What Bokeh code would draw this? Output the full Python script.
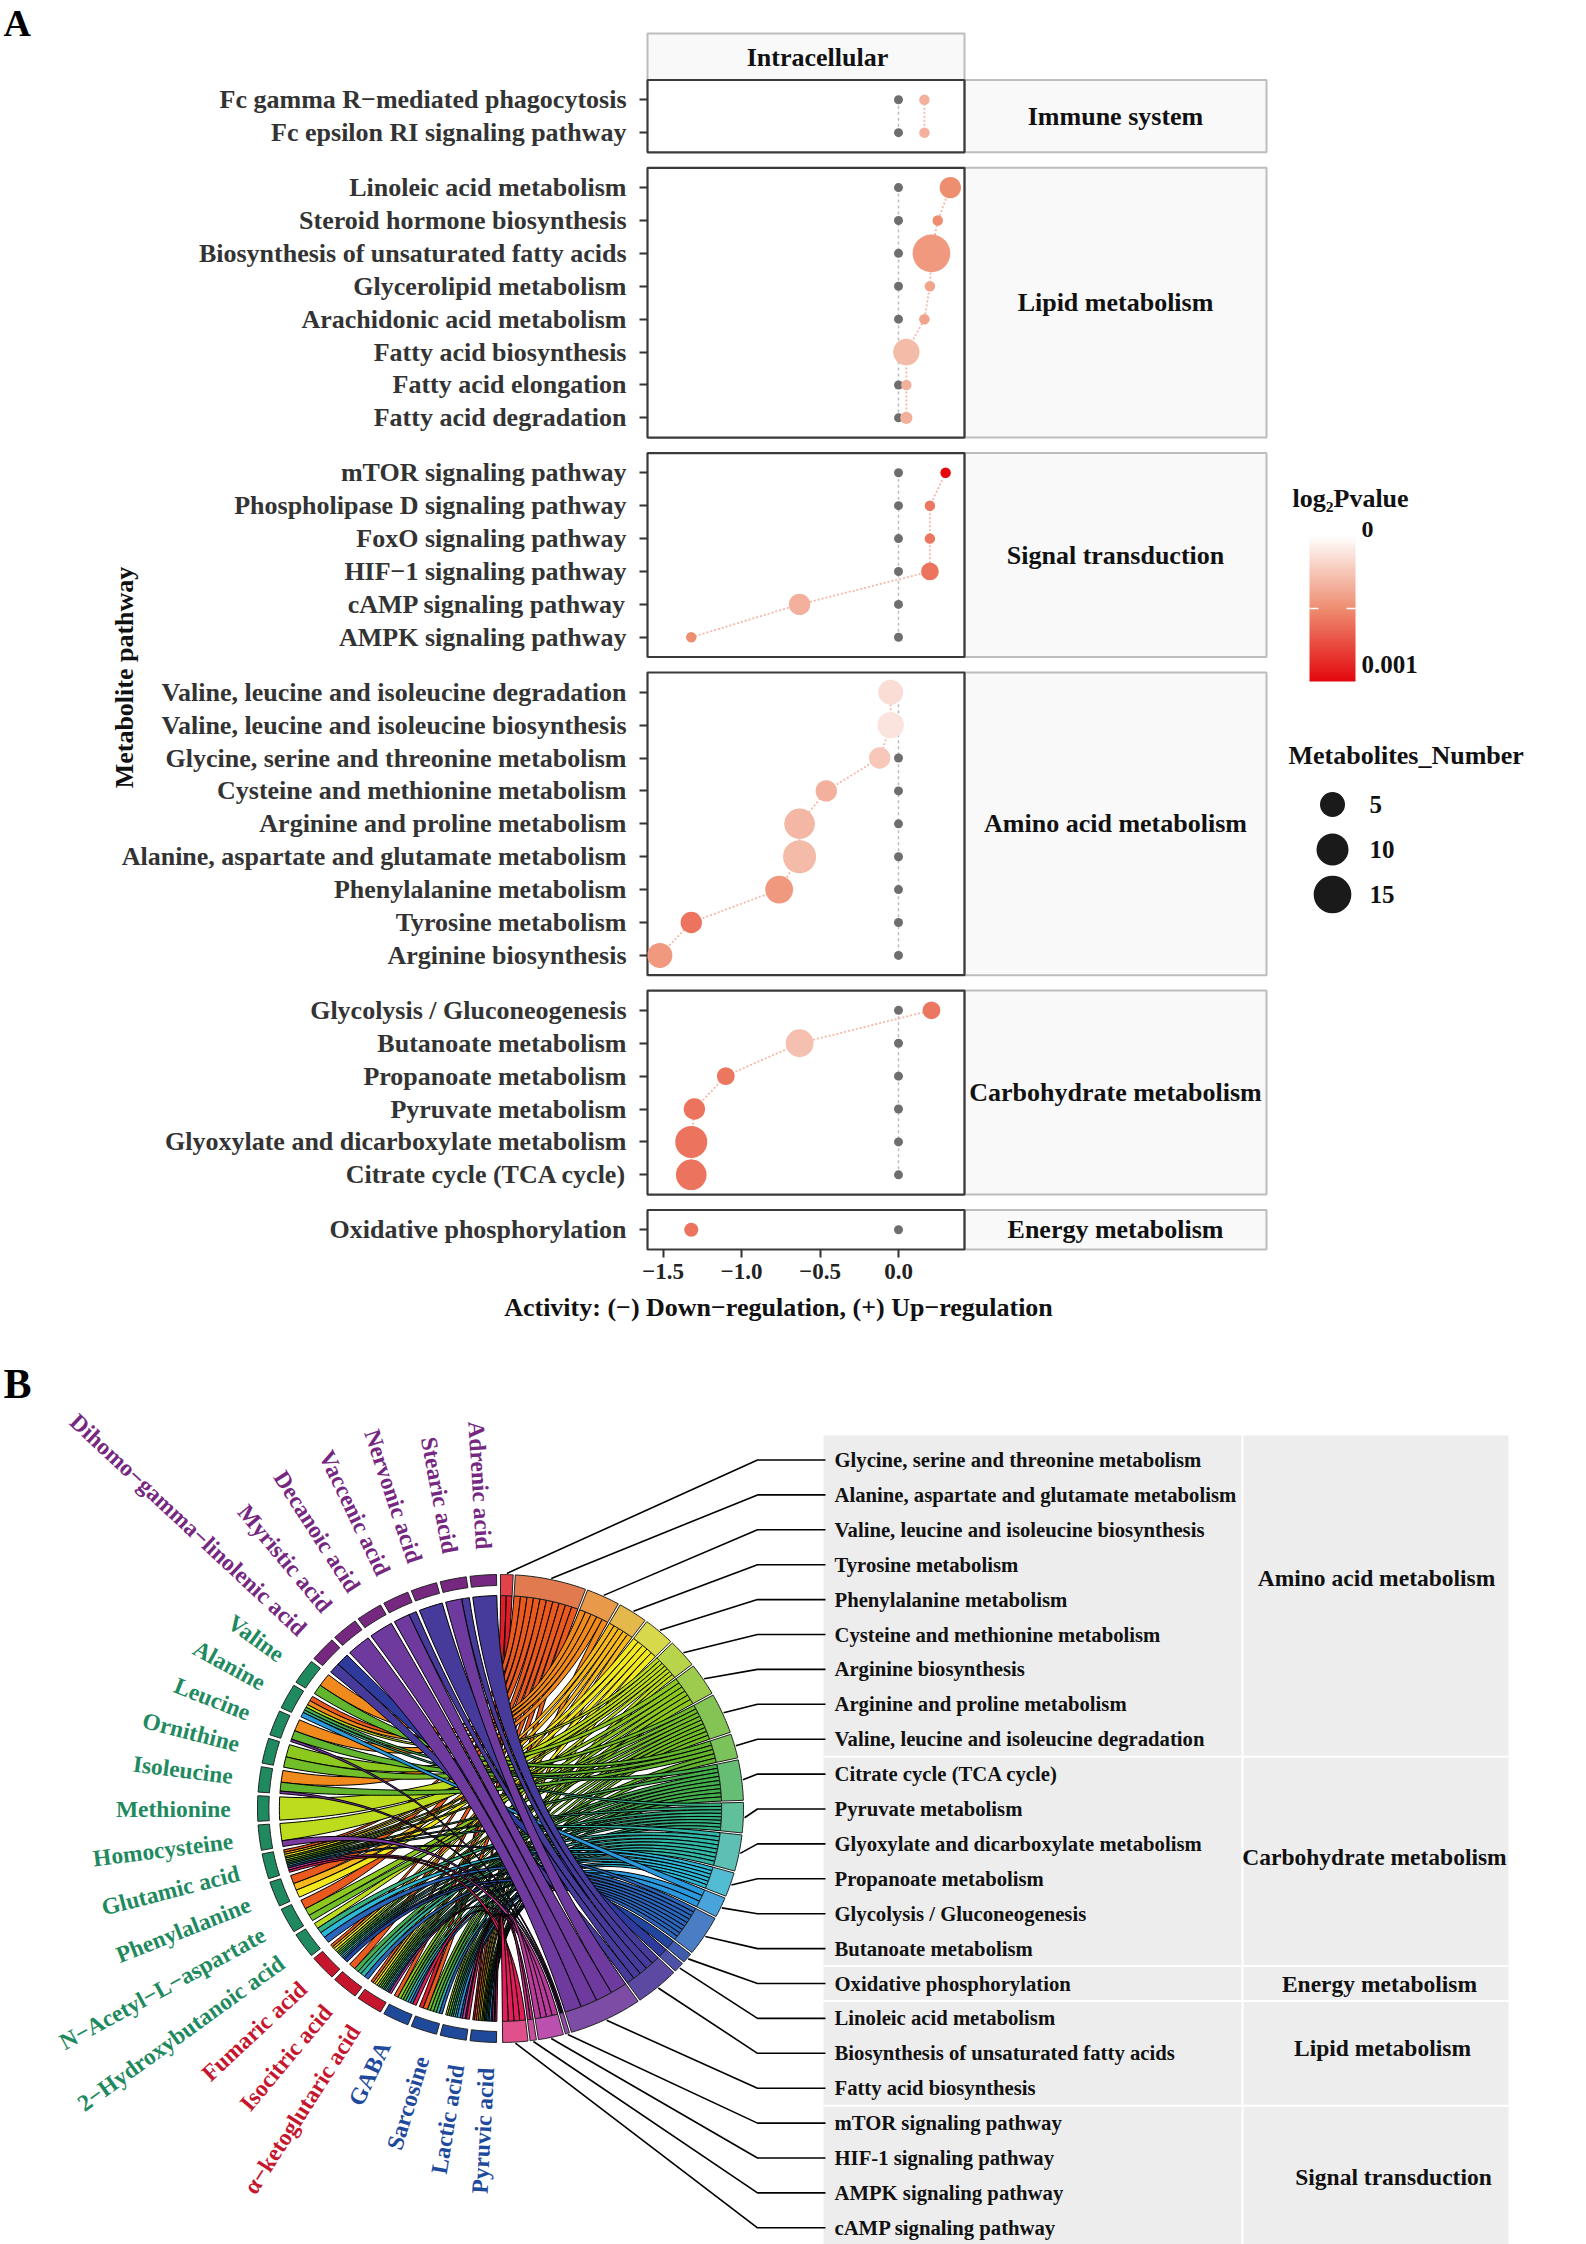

import numpy as np
from bokeh.plotting import figure
from bokeh.models import Range1d, FixedTicker, Label, ColorBar, LinearColorMapper, ColumnDataSource
from bokeh.core.properties import value
from bokeh.embed import file_html
from bokeh.resources import INLINE

FONT = "Liberation Serif"

# ---------------- Panel A data ----------------
facets = ["Immune system", "Lipid metabolism", "Signal transduction",
          "Amino acid metabolism", "Carbohydrate metabolism", "Energy metabolism"]
immune_names = ["Fc gamma R−mediated phagocytosis", "Fc epsilon RI signaling pathway"]
immune_activity = [0.165, 0.165]
immune_number = [1, 1]
immune_p = [0.00035, 0.00035]
lipid_names = ["Linoleic acid metabolism", "Steroid hormone biosynthesis",
               "Biosynthesis of unsaturated fatty acids", "Glycerolipid metabolism",
               "Arachidonic acid metabolism", "Fatty acid biosynthesis",
               "Fatty acid elongation", "Fatty acid degradation"]
lipid_activity = [0.33, 0.25, 0.21, 0.2, 0.165, 0.05, 0.05, 0.05]
lipid_number = [4, 1, 15, 1, 1, 6, 1, 1.5]
lipid_p = [0.0005, 0.0005, 0.00045, 0.0004, 0.0004, 0.0003, 0.00035, 0.00035]
signal_names = ["mTOR signaling pathway", "Phospholipase D signaling pathway",
                "FoxO signaling pathway", "HIF−1 signaling pathway",
                "cAMP signaling pathway", "AMPK signaling pathway"]
signal_activity = [0.3, 0.2, 0.2, 0.2, -0.63, -1.32]
signal_number = [1, 1, 1, 3, 4, 1]
signal_p = [0.001, 0.00058, 0.00058, 0.0006, 0.00035, 0.0005]
amino_names = ["Valine, leucine and isoleucine degradation",
               "Valine, leucine and isoleucine biosynthesis",
               "Glycine, serine and threonine metabolism",
               "Cysteine and methionine metabolism", "Arginine and proline metabolism",
               "Alanine, aspartate and glutamate metabolism", "Phenylalanine metabolism",
               "Tyrosine metabolism", "Arginine biosynthesis"]
amino_activity = [-0.05, -0.05, -0.12, -0.46, -0.63, -0.63, -0.76, -1.32, -1.52]
amino_number = [5, 6, 4, 4, 9, 11, 7, 4, 5]
amino_p = [0.00015, 0.00012, 0.00025, 0.00035, 0.00032, 0.0003, 0.00045, 0.0006, 0.00045]
carb_names = ["Glycolysis / Gluconeogenesis", "Butanoate metabolism", "Propanoate metabolism",
              "Pyruvate metabolism", "Glyoxylate and dicarboxylate metabolism",
              "Citrate cycle (TCA cycle)"]
carb_activity = [0.21, -0.63, -1.1, -1.3, -1.32, -1.32]
carb_number = [3, 7, 3, 4, 10, 9]
carb_p = [0.00058, 0.00028, 0.00058, 0.0006, 0.0006, 0.0006]
energy_names = ["Oxidative phosphorylation"]
energy_activity = [-1.32]
energy_number = [2]
energy_p = [0.0006]

facet_names = [immune_names, lipid_names, signal_names, amino_names, carb_names, energy_names]
facet_activity = [immune_activity, lipid_activity, signal_activity, amino_activity, carb_activity, energy_activity]
facet_number = [immune_number, lipid_number, signal_number, amino_number, carb_number, energy_number]
facet_p = [immune_p, lipid_p, signal_p, amino_p, carb_p, energy_p]

x_ticks = [-1.5, -1.0, -0.5, 0.0]
x_tick_labels = ["−1.5", "−1.0", "−0.5", "0.0"]
size_legend = [5, 10, 15]

# ---------------- Panel B data ----------------
metabolites = ["Pyruvic acid", "Lactic acid", "Sarcosine", "GABA",
               "α−ketoglutaric acid", "Isocitric acid", "Fumaric acid",
               "2−Hydroxybutanoic acid", "N−Acetyl−L−aspartate", "Phenylalanine", "Glutamic acid",
               "Homocysteine", "Methionine", "Isoleucine", "Ornithine", "Leucine", "Alanine", "Valine",
               "Dihomo−gamma−linolenic acid", "Myristic acid", "Decanoic acid", "Vaccenic acid",
               "Nervonic acid", "Stearic acid", "Adrenic acid"]
metabolite_group = [0]*4 + [1]*3 + [2]*11 + [3]*7
group_colors = ["#1F4A9C", "#C5162E", "#1F8A5F", "#76277F"]

pathways_b = ["Glycine, serine and threonine metabolism", "Alanine, aspartate and glutamate metabolism",
              "Valine, leucine and isoleucine biosynthesis", "Tyrosine metabolism", "Phenylalanine metabolism",
              "Cysteine and methionine metabolism", "Arginine biosynthesis", "Arginine and proline metabolism",
              "Valine, leucine and isoleucine degradation", "Citrate cycle (TCA cycle)", "Pyruvate metabolism",
              "Glyoxylate and dicarboxylate metabolism", "Propanoate metabolism", "Glycolysis / Gluconeogenesis",
              "Butanoate metabolism", "Oxidative phosphorylation", "Linoleic acid metabolism",
              "Biosynthesis of unsaturated fatty acids", "Fatty acid biosynthesis", "mTOR signaling pathway",
              "HIF-1 signaling pathway", "AMPK signaling pathway", "cAMP signaling pathway"]
pathway_span = [3, 17, 8, 7, 7.5, 7, 8, 10, 6, 10, 7.5, 9, 6, 5, 10, 2.5, 2.5, 10.5, 17.5, 1, 6, 1.5, 6]
band_colors = ["#E2434B", "#E27A50", "#E89A4A", "#E4B84A", "#D8D84C", "#B8D44A", "#9CCB4E", "#84C454",
               "#7CC25A", "#66BE74", "#5FC09A", "#5EC0B4", "#52BCD2", "#4AA4DC", "#4A7EC4", "#3F5CAE",
               "#4D52A8", "#5C4AA2", "#7D4CA4", "#8E4CA6", "#BC50AE", "#C84F9E", "#E0508A"]
ribbon_colors = ["#E01E2A", "#EA5A1E", "#F08A1C", "#F7B81D", "#F2E81E", "#BEDC1E", "#8CC81E", "#72BE28",
                 "#62B62E", "#45AE4C", "#35B080", "#32B6A6", "#2EB8D8", "#2A98DC", "#2A66BC", "#22469E",
                 "#2E3A9C", "#463A9A", "#6E3A9E", "#7B3A9E", "#B83A9A", "#C82E8A", "#E01E5A"]
pathway_links = [
    ["Sarcosine", "Pyruvic acid"],
    ["Alanine", "N−Acetyl−L−aspartate", "Phenylalanine", "Glutamic acid", "GABA", "Fumaric acid", "Isocitric acid", "α−ketoglutaric acid", "Sarcosine", "Pyruvic acid"],
    ["Valine", "Leucine", "Isoleucine", "Alanine", "Pyruvic acid"],
    ["Phenylalanine", "Glutamic acid", "Fumaric acid", "α−ketoglutaric acid", "Pyruvic acid"],
    ["Phenylalanine", "Glutamic acid", "Fumaric acid", "α−ketoglutaric acid", "Pyruvic acid"],
    ["Methionine", "Homocysteine", "Alanine", "Glutamic acid", "2−Hydroxybutanoic acid", "Lactic acid", "Pyruvic acid"],
    ["Ornithine", "Glutamic acid", "N−Acetyl−L−aspartate", "Fumaric acid", "α−ketoglutaric acid", "GABA"],
    ["Ornithine", "Glutamic acid", "N−Acetyl−L−aspartate", "Fumaric acid", "α−ketoglutaric acid", "GABA", "Sarcosine", "Lactic acid", "Pyruvic acid"],
    ["Valine", "Leucine", "Isoleucine", "α−ketoglutaric acid", "Sarcosine"],
    ["Glutamic acid", "Alanine", "Fumaric acid", "Isocitric acid", "α−ketoglutaric acid", "GABA", "Sarcosine", "Lactic acid", "Pyruvic acid"],
    ["Alanine", "Glutamic acid", "2−Hydroxybutanoic acid", "Fumaric acid", "Isocitric acid", "α−ketoglutaric acid", "Lactic acid", "Pyruvic acid"],
    ["Glutamic acid", "Fumaric acid", "Isocitric acid", "α−ketoglutaric acid", "GABA", "Sarcosine", "Lactic acid", "Pyruvic acid"],
    ["2−Hydroxybutanoic acid", "Fumaric acid", "α−ketoglutaric acid", "GABA", "Lactic acid", "Pyruvic acid"],
    ["Alanine", "Lactic acid", "Pyruvic acid"],
    ["2−Hydroxybutanoic acid", "Glutamic acid", "Fumaric acid", "Isocitric acid", "α−ketoglutaric acid", "GABA", "Sarcosine", "Lactic acid", "Pyruvic acid"],
    ["Fumaric acid"],
    ["Dihomo−gamma−linolenic acid"],
    ["Adrenic acid", "Stearic acid", "Nervonic acid", "Vaccenic acid", "Dihomo−gamma−linolenic acid"],
    ["Stearic acid", "Vaccenic acid", "Decanoic acid", "Myristic acid"],
    ["Leucine", "Homocysteine", "Isoleucine"],
    ["Glutamic acid", "α−ketoglutaric acid", "Lactic acid", "Pyruvic acid"],
    ["Lactic acid", "Pyruvic acid"],
    ["Glutamic acid", "GABA", "Lactic acid", "Pyruvic acid"],
]
category_names = ["Amino acid metabolism", "Carbohydrate metabolism", "Energy metabolism",
                  "Lipid metabolism", "Signal transduction"]
category_counts = [9, 6, 1, 3, 4]

# ---------------- layout constants (page pixels) ----------------
PAGE_L, PAGE_R, PAGE_T, PAGE_B = 0, 1586, 0, 2244
PANEL_BOTTOM = 1249
PANEL_L, PANEL_R, STRIP_R = 647, 964, 1266
ZERO_PX, PX_PER_UNIT = 898, 157
PANEL_TOP = 79.5
EXPAND, GAP = 0.6, 0.47

# row positions for the facets
units = sum(len(n) - 1 + 2*EXPAND for n in facet_names) + GAP*(len(facet_names) - 1)
ROW_PX = (PANEL_BOTTOM - PANEL_TOP) / units
u = 0.0
facet_bounds, facet_rows = [], []
for names in facet_names:
    rows = [u + EXPAND + i for i in range(len(names))]
    end = rows[-1] + EXPAND
    facet_bounds.append((u, end))
    facet_rows.append(rows)
    u = end + GAP
bottom_u = facet_bounds[-1][1]

p = figure(width=PAGE_R - PAGE_L, height=PAGE_B - PAGE_T, output_backend="svg", toolbar_location=None,
           x_range=Range1d((PAGE_L - ZERO_PX)/PX_PER_UNIT, (PAGE_R - ZERO_PX)/PX_PER_UNIT),
           y_range=Range1d((PAGE_B - PANEL_TOP)/ROW_PX, (PAGE_T - PANEL_TOP)/ROW_PX),
           min_border=0, outline_line_color=None, background_fill_color=None, border_fill_color="white")
p.grid.visible = False
p.extra_x_ranges["px"] = Range1d(PAGE_L, PAGE_R)
p.extra_y_ranges["px"] = Range1d(PAGE_B, PAGE_T)
CX, CY, RX, RY = 500, 1808, 243, 234
p.extra_x_ranges["chord"] = Range1d((PAGE_L - CX)/RX, (PAGE_R - CX)/RX)
p.extra_y_ranges["chord"] = Range1d((CY - PAGE_B)/RY, (CY - PAGE_T)/RY)


def size_px(n):
    return np.interp(n, [1, 5, 10, 15], [10.5, 25, 32, 37.7])


# axes sit inside the frame, at the lower and left edge of the facet panels
p.xaxis.fixed_location = bottom_u
p.yaxis.fixed_location = (PANEL_L - ZERO_PX)/PX_PER_UNIT
p.xaxis.ticker = FixedTicker(ticks=x_ticks)
p.xaxis.major_label_overrides = dict(zip(x_ticks, x_tick_labels))
p.xaxis.axis_line_color = None
p.xaxis.minor_tick_line_color = None
p.xaxis.major_tick_line_color = "#333333"
p.xaxis.major_tick_line_width = 2
p.xaxis.major_tick_out = 8
p.xaxis.major_tick_in = 0
p.xaxis.major_label_standoff = 6
p.xaxis.major_label_text_font = FONT
p.xaxis.major_label_text_font_style = "bold"
p.xaxis.major_label_text_font_size = "23px"
p.xaxis.major_label_text_color = "#222222"

all_rows = [r for rows in facet_rows for r in rows]
all_names = [n for names in facet_names for n in names]
p.yaxis.ticker = FixedTicker(ticks=all_rows)
p.yaxis.major_label_overrides = dict(zip(all_rows, all_names))
p.yaxis.axis_line_color = None
p.yaxis.minor_tick_line_color = None
p.yaxis.major_tick_line_color = "#333333"
p.yaxis.major_tick_line_width = 2
p.yaxis.major_tick_out = 8
p.yaxis.major_tick_in = 0
p.yaxis.major_label_standoff = 13
p.yaxis.major_label_text_font = FONT
p.yaxis.major_label_text_font_style = "bold"
p.yaxis.major_label_text_font_size = "26px"
p.yaxis.major_label_text_color = "#333333"

# colour mapping
stops_x = [0, 0.5, 1]
stops = np.array([[255, 255, 255], [238, 141, 112], [228, 8, 14]], float)
palette = []
for t in np.linspace(1, 0, 128):  # red end first: low end of the mapper is p = 0.001
    c = [np.interp(t, stops_x, stops[:, k]) for k in range(3)]
    palette.append("#%02x%02x%02x" % tuple(int(round(v)) for v in c))
mapper = LinearColorMapper(palette=palette, low=-0.001, high=0)

# strip and panels
p.quad(left=[PANEL_L], right=[PANEL_R], top=[33], bottom=[PANEL_TOP], x_range_name="px", y_range_name="px",
       fill_color="#F9F9F9", line_color="#BDBDBD", line_width=2)
p.text(x=[817], y=[57], text=["Intracellular"], x_range_name="px", y_range_name="px",
       text_font=value(FONT), text_font_style="bold", text_font_size="26px", text_color="#111111",
       text_align="center", text_baseline="middle")
for name, (t, b) in zip(facets, facet_bounds):
    p.quad(left=[PANEL_R], right=[STRIP_R], top=[t], bottom=[b], x_range_name="px",
           fill_color="#F9F9F9", line_color="#BDBDBD", line_width=2)
    p.text(x=[1115], y=[(t + b)/2], text=[name], x_range_name="px",
           text_font=value(FONT), text_font_style="bold", text_font_size="26px", text_color="#111111",
           text_align="center", text_baseline="middle")
    p.quad(left=[PANEL_L], right=[PANEL_R], top=[t], bottom=[b], x_range_name="px",
           fill_color=None, line_color="#3A3A3A", line_width=2.2)

for names, act, num, pv, rows in zip(facet_names, facet_activity, facet_number, facet_p, facet_rows):
    zeros = [0.0]*len(rows)
    p.line(zeros, rows, line_color="#BDBDBD", line_width=1.5, line_dash="3 3")
    p.line(act, rows, line_color="#F6B8A8", line_width=1.8, line_dash="2 2")
    p.scatter(zeros, rows, size=9, fill_color="#6E6E6E", line_color=None)
    src = ColumnDataSource(dict(x=act, y=rows, s=size_px(num), sp=[-v for v in pv]))
    p.scatter("x", "y", size="s", source=src, line_color=None,
              fill_color={"field": "sp", "transform": mapper})

cb = ColorBar(color_mapper=mapper, width=46, height=146, location=(1309 - PAGE_L, PAGE_B - 681), padding=0,
              ticker=FixedTicker(ticks=[-0.0005]), major_label_overrides={-0.0005: " "},
              major_tick_line_color="white", major_tick_line_width=1.5, major_tick_in=9, major_tick_out=0,
              bar_line_color=None, background_fill_color=None, border_line_color=None,
              major_label_text_font=FONT, major_label_text_font_size="1px")
p.add_layout(cb)
p.line([1309, 1318], [608, 608], x_range_name="px", y_range_name="px", line_color="white", line_width=1.5,
       level="overlay")


def lab(x, y, text, size, angle=0, align="center", color="#111111"):
    p.add_layout(Label(x=x, y=y, text=text, x_range_name="px", y_range_name="px", angle=angle, angle_units="deg",
                       text_font=FONT, text_font_style="bold", text_font_size=size, text_color=color,
                       text_align=align, text_baseline="middle"))


lab(3, 22, "A", "38px", align="left", color="black")
lab(124, 677, "Metabolite pathway", "26px", angle=90)
lab(778, 1307, "Activity: (−) Down−regulation, (+) Up−regulation", "26px")
lab(1292, 498, "log₂Pvalue", "26px", align="left")
lab(1361, 529, "0", "24px", align="left")
lab(1361, 664, "0.001", "25px", align="left")
lab(1288, 755, "Metabolites_Number", "26px", align="left")
p.scatter([1332]*3, [804, 849, 894], size=size_px(size_legend), fill_color="#1A1A1A", line_color=None,
          x_range_name="px", y_range_name="px")
p.text([1369]*3, [804, 849, 894], text=[str(v) for v in size_legend], x_range_name="px", y_range_name="px",
       text_font=value(FONT), text_font_style="bold", text_font_size="25px", text_color="#111111",
       text_align="left", text_baseline="middle")

# ---------------- Panel B ----------------
R_IN, R_RING, R_OUT, R_LABEL = 0.91, 0.953, 1.0, 1.11


def pol(theta_deg, r):
    t = np.radians(theta_deg)
    return r*np.sin(t), r*np.cos(t)


def sector(a1, a2, r1, r2, n=14):
    th = np.linspace(a1, a2, n)
    x1, y1 = pol(th, r2)
    x2, y2 = pol(th[::-1], r1)
    return np.r_[x1, x2], np.r_[y1, y2]


def label_angle(mid):
    """Labels near the poles stand closer to the vertical than their ring segment."""
    dev = mid - 180
    if dev < 90:
        return 180 + dev*(0.7 + 0.3*min(dev/25, 1))
    dev = 360 - mid
    return 360 - dev*(0.8 + 0.2*min(dev/15, 1))


# angular layout: right half clockwise from the top
gap_r = 0.5
sec_start, a = [], 0.0
for s in pathway_span:
    sec_start.append(a)
    a += s + gap_r
# left half, clockwise from the bottom
m_pitch = 179.0 / len(metabolites)
m_gap = 0.9
m_start = [180.5 + i*m_pitch for i in range(len(metabolites))]
m_index = {m: i for i, m in enumerate(metabolites)}

# widths of each link at both ends
link_w = {}
for i, links in enumerate(pathway_links):
    for m in links:
        link_w[(i, m)] = pathway_span[i] / len(links)
m_total = {m: sum(w for (i, k), w in link_w.items() if k == m) for m in metabolites}
m_end = {}
for m in metabolites:
    cur = m_start[m_index[m]] + m_gap/2
    for i in sorted((i for (i, k) in link_w if k == m), reverse=True):
        w = link_w[(i, m)] / m_total[m] * (m_pitch - m_gap)
        m_end[(i, m)] = (cur, cur + w)
        cur += w

rib_xs, rib_ys, rib_c = [], [], []
t_b = np.linspace(0, 1, 40)
for i, links in enumerate(pathway_links):
    ordered = sorted(links, key=lambda m: -m_index[m])
    w = pathway_span[i] / len(links)
    for j, m in enumerate(ordered):
        a1, a2 = sec_start[i] + j*w, sec_start[i] + (j + 1)*w
        b1, b2 = m_end[(i, m)]
        xa, ya = pol(np.linspace(a1, a2, 6), R_IN)
        xb, yb = pol(np.linspace(b1, b2, 6), R_IN)
        # quadratic Bezier edges through the centre
        x_e1 = (1 - t_b)**2*xa[-1] + t_b**2*xb[0]
        y_e1 = (1 - t_b)**2*ya[-1] + t_b**2*yb[0]
        x_e2 = (1 - t_b)**2*xb[-1] + t_b**2*xa[0]
        y_e2 = (1 - t_b)**2*yb[-1] + t_b**2*ya[0]
        rib_xs.append(np.r_[xa, x_e1, xb, x_e2].tolist())
        rib_ys.append(np.r_[ya, y_e1, yb, y_e2].tolist())
        rib_c.append(ribbon_colors[i])

# table backgrounds
row_y0, row_dy = 1459.5, 34.9
row_y = [row_y0 + row_dy*i for i in range(len(pathways_b))]
cat_dx = [0, -2, 3, 6, 17]
cat_dy = [-22, -4, 0, -5, 2]
first = 0
for k, (name, cnt) in enumerate(zip(category_names, category_counts)):
    top = row_y[first] - row_dy/2 + 1 - (8 if k == 0 else 0)
    bot = row_y[first + cnt - 1] + row_dy/2 - 1 + (8 if k == 4 else 0)
    p.quad(left=[823], right=[1241], top=[top], bottom=[bot], x_range_name="px", y_range_name="px",
           fill_color="#EDEDED", line_color=None)
    p.quad(left=[1243], right=[1508], top=[top], bottom=[bot], x_range_name="px", y_range_name="px",
           fill_color="#EDEDED", line_color=None)
    p.text([1376 + cat_dx[k]], [(row_y[first] + row_y[first + cnt - 1])/2 + cat_dy[k]], text=[name],
           x_range_name="px", y_range_name="px",
           text_font=value(FONT), text_font_style="bold", text_font_size="23.5px", text_color="#111111",
           text_align="center", text_baseline="middle")
    first += cnt

# leader lines
ELBOW, LINE_END = 757, 825
for i in range(len(pathways_b)):
    mid = sec_start[i] + pathway_span[i]/2
    sx, sy = pol(mid, 1.005)
    px0, py0 = CX + RX*sx, CY - RY*sy
    p.line([px0, ELBOW, LINE_END], [py0, row_y[i], row_y[i]], x_range_name="px", y_range_name="px",
           line_color="black", line_width=1.6)

p.text([834]*len(pathways_b), row_y, text=pathways_b, x_range_name="px", y_range_name="px",
       text_font=value(FONT), text_font_style="bold",
       text_font_size="20.7px", text_color="#111111", text_align="left", text_baseline="middle")

# chord
p.patches(rib_xs, rib_ys, x_range_name="chord", y_range_name="chord", fill_color=rib_c,
          line_color="black", line_width=1.0)

# right band
for i in range(len(pathways_b)):
    xs, ys = sector(sec_start[i], sec_start[i] + pathway_span[i], R_IN, R_OUT)
    p.patch(xs, ys, x_range_name="chord", y_range_name="chord", fill_color=band_colors[i],
            line_color="#222222", line_width=1.0)

# left ring and labels
lx, ly, ltx, la, lc = [], [], [], [], []
for i, m in enumerate(metabolites):
    col = group_colors[metabolite_group[i]]
    a1, a2 = m_start[i] + m_gap/2, m_start[i] + m_pitch - m_gap/2
    xs, ys = sector(a1, a2, R_RING, R_OUT, n=8)
    p.patch(xs, ys, x_range_name="chord", y_range_name="chord", fill_color=col, line_color="#222222", line_width=1.0)
    mid = label_angle((a1 + a2)/2)
    px_, py_ = pol(mid, R_LABEL)
    lx.append(px_); ly.append(py_); ltx.append(m); lc.append(col)
    ux, uy = pol(mid, 1.0)
    la.append(float(np.arctan2(-uy, -ux)))
p.text(lx, ly, text=ltx, angle=la, angle_units="rad", x_range_name="chord", y_range_name="chord",
       text_font=value(FONT), text_font_style="bold", text_font_size="23.5px", text_color=lc,
       text_align="right", text_baseline="middle")

lab(3, 1383, "B", "42px", align="left", color="black")

open("out.html", "w").write(file_html(p, INLINE))
